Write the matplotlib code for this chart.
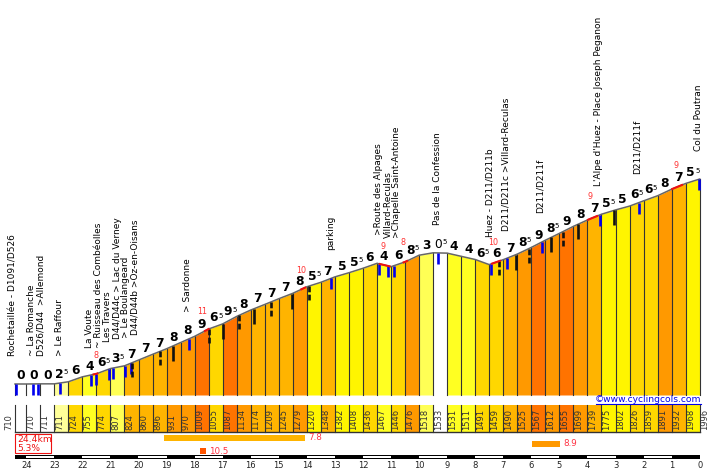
import numpy as np
import matplotlib
matplotlib.use("Agg")
import matplotlib.pyplot as plt
from matplotlib.patches import Rectangle

# ---------- data ----------
cell_km = [24.4] + [24 - 0.5 * i for i in range(49)]
elevation = [710, 710, 711, 711, 724, 755, 774, 807, 824, 860, 896, 931, 970, 1009, 1055, 1087,
             1134, 1174, 1209, 1245, 1279, 1320, 1348, 1382, 1408, 1436, 1467, 1446, 1476, 1518,
             1533, 1531, 1511, 1491, 1459, 1490, 1525, 1567, 1612, 1655, 1699, 1739, 1775, 1802,
             1826, 1859, 1891, 1932, 1968, 1996]
grades = [0, 0, 0, 2.5, 6, 4, 6.5, 3.5, 7, 7, 7, 8, 8, 9, 6.5, 9.5, 8, 7, 7, 7, 8, 5.5, 7, 5, 5.5,
          6, 4, 6, 8.5, 3, 0.5, 4, 4, 6.5, 6, 7, 8.5, 9, 8.5, 9, 8, 7, 5.5, 5, 6.5, 6.5, 8, 7, 5.5]
blue_km = [24.38, 23.76, 23.58, 22.8, 21.7, 21.5, 21.05, 20.9, 20.48, 20.27, 18.2, 13.14, 11.44,
           11.11, 10.9, 9.33, 7.45, 6.87, 5.62, 3.55, 2.16, 0.02]
solid_km = [18.76, 16.99, 15.88, 14.53, 6.56, 5.3, 4.33, 3.06]
dashed_km = [20.22, 19.24, 17.49, 16.42, 15.28, 13.92, 7.15, 6.09, 4.87]
steep_text = ["8", "11", "10", "9", "8", "10", "9", "9"]
steep_label_km = [21.52, 17.74, 14.2, 11.3, 10.57, 7.36, 3.9, 0.85]
steep_label_m = [886, 1162, 1425, 1571, 1596, 1595, 1885, 2079]
steep_start = [21.6, 17.63, 14.2, 11.4, 10.55, 7.4, 3.98, 0.98]
steep_end = [21.47, 17.5, 14.06, 11.05, 10.43, 7.12, 3.66, 0.63]
place_names = ["Rochetaillée - D1091/D526", "~ La Romanche", "D526/D44  >Allemond", "> Le Raffour",
               "La Voute", "~ Ruisseau des Combéolles", "Les Travers", "D44/D44c > Lac du Verney",
               "> Le Boulangeard", "D44/D44b >Oz-en-Oisans", "> Sardonne", "parking",
               ">Route des Alpages", "Villard-Reculas", ">Chapelle Saint-Antoine",
               "Pas de la Confession", "Huez - D211/D211b", "D211/D211c >Villard-Reculas",
               "D211/D211f", "L'Alpe d'Huez - Place Joseph Peganon", "D211/D211f", "Col du Poutran"]
place_km = [24.46, 23.8, 23.49, 22.83, 21.73, 21.44, 21.1, 20.76, 20.45, 20.13, 18.24, 13.14,
            11.46, 11.11, 10.79, 9.36, 7.47, 6.9, 5.67, 3.59, 2.23, 0.06]
place_m = [886, 886, 886, 886, 936, 936, 973, 992, 999, 1017, 1162, 1551, 1645, 1626, 1626, 1707,
           1635, 1670, 1783, 1952, 2027, 2172]
climb_start = [19.08, 5.98, 17.8]
climb_end = [14.07, 4.98, 17.6]
climb_grade = [7.8, 8.9, 10.5]
climb_color = ["#FFB400", "#FF9900", "#FF5500"]
km_ticks = list(range(24, -1, -1))
total_text = ["24.4km", "5.3%"]

# ---------- scales ----------
W, H = 714, 472
PX_KM = 28.06
PX_M = 0.1594
fig = plt.figure(figsize=(W / 100, H / 100), dpi=100, facecolor="white")
ax = fig.add_axes([0, 0, 1, 1])
ax.set_xlim(699.7 / PX_KM, (699.7 - W) / PX_KM)
ax.set_ylim(710 + (384 - H) / PX_M, 710 + 384 / PX_M)
ax.axis("off")


def my(px):
    return 710 + (384 - px) / PX_M


def grade_color(g):
    if g < 1:
        return "white"
    if g < 3:
        return "#FFFF99"
    if g < 4:
        return "#FFFF55"
    if g < 5:
        return "#FFFF22"
    if g < 5.75:
        return "#FFF500"
    if g < 6.75:
        return "#FFD700"
    if g < 7.5:
        return "#FFB400"
    if g < 8.75:
        return "#FF9900"
    return "#FF7300"


base = my(395)
tab_top, tab_bot = my(405), my(432)
edge = "#333333"
for i, g in enumerate(grades):
    k0, k1 = cell_km[i], cell_km[i + 1]
    c = grade_color(g)
    ax.fill_between([k0, k1], [elevation[i], elevation[i + 1]], base, color=c, lw=0, zorder=1)
    ax.add_patch(Rectangle((k1, tab_bot), k0 - k1, tab_top - tab_bot, fc=c, ec="none", zorder=1))

for i, k in enumerate(cell_km):
    ax.plot([k, k], [base, elevation[i]], color=edge, lw=0.8, zorder=2)
    ax.plot([k, k], [tab_top, tab_bot], color=edge, lw=0.8, zorder=2)
ax.plot([cell_km[0], cell_km[-1]], [tab_bot, tab_bot], color=edge, lw=1.0, zorder=3)
ax.plot(cell_km, elevation, color="#666666", lw=1.1, zorder=4)

# climbing marks
for k in blue_km:
    top = np.interp(k, cell_km[::-1], elevation[::-1])
    ax.plot([k, k], [top, top - 11 / PX_M], color="#0000EE", lw=1.9, solid_capstyle="butt", zorder=5)
for k in solid_km:
    top = np.interp(k, cell_km[::-1], elevation[::-1])
    ax.plot([k, k], [top, top - 15 / PX_M], color="#111111", lw=1.9, solid_capstyle="butt", zorder=5)
for k in dashed_km:
    top = np.interp(k, cell_km[::-1], elevation[::-1])
    ax.plot([k, k], [top, top - 15 / PX_M], color="#111111", lw=1.9, dashes=(2.2, 0.9), dash_capstyle="butt", zorder=5)

# steep sections
for a, b in zip(steep_start, steep_end):
    xs = np.linspace(a, b, 6)
    ax.plot(xs, np.interp(xs, cell_km[::-1], elevation[::-1]), color="#EE1111", lw=1.5, zorder=6)
for t, k, m in zip(steep_text, steep_label_km, steep_label_m):
    ax.text(k, m, t, color="#FF3333", fontsize=5.8, ha="center", va="center", zorder=7)

# gradient labels
for i, g in enumerate(grades):
    kc = (cell_km[i] + cell_km[i + 1]) / 2
    yc = (elevation[i] + elevation[i + 1]) / 2 + 8.5 / PX_M
    whole = int(g)
    if g != whole:
        weight = "normal" if g < 1 else "bold"
        ax.text(kc + 2 / PX_KM, yc, str(whole), fontsize=8.8, fontweight=weight, ha="center", va="center",
                color="black", zorder=7)
        ax.text(kc - 4.5 / PX_KM, yc + 2 / PX_M, "5", fontsize=5, fontweight="normal", ha="center", va="center",
                color="black", zorder=7)
    else:
        ax.text(kc, yc, str(whole), fontsize=8.8, fontweight="bold", ha="center", va="center",
                color="black", zorder=7)

# place names
for t, k, m in zip(place_names, place_km, place_m):
    ax.text(k, m, t, rotation=90, ha="center", va="bottom", fontsize=6.5, color="black", zorder=7)

# elevations in the table
for i, e in enumerate(elevation):
    k = cell_km[i]
    off = 5
    if i == 0:
        off = -6
    ax.text(k - off / PX_KM, my(430.5), str(e), rotation=90, ha="center", va="bottom", fontsize=6.0,
            color="#333333", zorder=7)

# climb bars
rows = [(435, 441), (441, 447), (448, 454)]
for (a, b, g, c, (r0, r1)) in zip(climb_start, climb_end, climb_grade, climb_color, rows):
    ax.add_patch(Rectangle((b, my(r1)), a - b, my(r0) - my(r1), fc=c, ec="none", zorder=3))
    ax.text(b - 3 / PX_KM, my((r0 + r1) / 2), str(g), color="#FF3344", fontsize=6.3, ha="left", va="center", zorder=7)

# totals box
ax.add_patch(Rectangle((cell_km[0] - 36 / PX_KM, my(453)), 36 / PX_KM, my(434) - my(453), fc="white",
                       ec="#EE1111", lw=0.8, zorder=4))
ax.text(cell_km[0] - 2 / PX_KM, my(439.5), total_text[0], color="#EE1111", fontsize=6.6, ha="left", va="center", zorder=7)
ax.text(cell_km[0] - 2 / PX_KM, my(448.5), total_text[1], color="#EE1111", fontsize=6.6, ha="left", va="center", zorder=7)

# km scale
s_top, s_bot = my(455), my(459)
ax.add_patch(Rectangle((0, s_bot), cell_km[0], s_top - s_bot, fc="black", ec="none", zorder=3))
for k in km_ticks[:-1]:
    if k % 2 == 0:
        ax.add_patch(Rectangle((k - 1, my(458.2)), 1, my(456.2) - my(458.2), fc="white", ec="none", zorder=4))
for k in km_ticks:
    ax.text(k, my(465.5), str(k), fontsize=6, ha="center", va="center", color="#222222", zorder=7)

# credit
ax.text(0 - 1.5 / PX_KM, my(399.8), "©www.cyclingcols.com", color="#0000EE", fontsize=6.6, ha="right", va="center", zorder=7)
ax.plot([104 / PX_KM, -1.5 / PX_KM], [my(404.2), my(404.2)], color="#0000EE", lw=0.8, zorder=7)

fig.savefig("out.png", dpi=100, facecolor="white")
